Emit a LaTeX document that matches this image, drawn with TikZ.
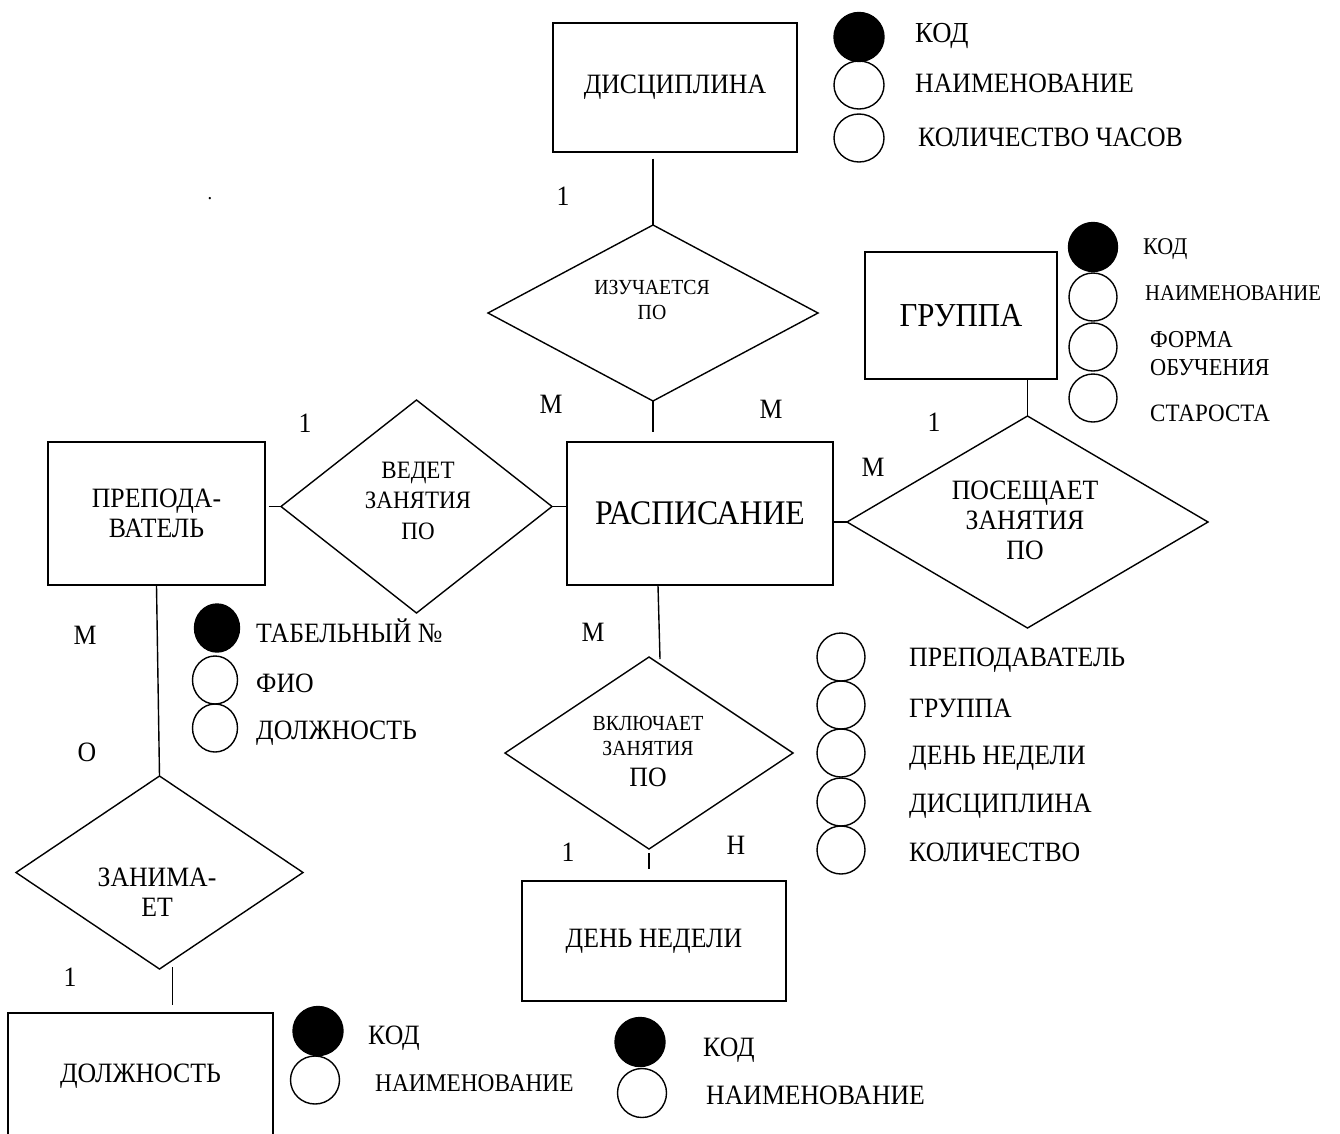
\documentclass[tikz,border=0pt]{standalone}
\usepackage{fontspec}
\setmainfont{Liberation Serif}[FakeStretch=0.92]
\usetikzlibrary{shapes.geometric,calc}
\newcommand\fs[2]{\fontsize{#1}{#2}\selectfont}
\begin{document}
\begin{tikzpicture}[x=1pt,y=-1pt,
  ent/.style={draw, line width=1.4pt, inner sep=0pt, align=center, font=\fs{28}{30}},
  rel/.style={draw, diamond, line width=1.4pt, inner sep=0pt, outer sep=0pt},
  keyatt/.style={draw, ellipse, fill=black, line width=1.4pt, inner sep=0pt, minimum width=50pt, minimum height=49pt},
  att/.style={draw, ellipse, line width=1.4pt, inner sep=0pt, minimum width=48pt, minimum height=48pt},
  lbl/.style={anchor=base west, inner sep=0pt, font=\fs{28}{30}},
  card/.style={anchor=base, inner sep=0pt, font=\fs{28}{30}},
  rtxt/.style={align=center, inner sep=0pt},
  conn/.style={line width=1.4pt}
]
\useasboundingbox (0,0) rectangle (1340,1133);

% ---------- entities ----------
\node[ent, minimum width=244pt, minimum height=129pt] (disc) at (675,87.5) {ДИСЦИПЛИНА};
\node[ent, minimum width=266pt, minimum height=143pt, font=\fs{34.5}{38}] (rasp) at (700,513.5) {РАСПИСАНИЕ};
\node[ent, minimum width=192pt, minimum height=127pt, font=\fs{33.5}{37}] (grp) at (961,315.5) {ГРУППА};
\node[ent, minimum width=217pt, minimum height=143pt] (prep) at (156.5,513.5) {ПРЕПОДА-\\ВАТЕЛЬ};
\node[ent, minimum width=264pt, minimum height=120pt] (den) at (654,941) {ДЕНЬ НЕДЕЛИ};
\node[ent, minimum width=265pt, minimum height=126pt] (dol) at (140.5,1076) {ДОЛЖНОСТЬ};

% ---------- relationships ----------
\node[rel, minimum width=330pt, minimum height=176pt] (izu) at (653,313) {};
\node[rel, minimum width=271pt, minimum height=213pt] (ved) at (416.5,506.5) {};
\node[rel, minimum width=361pt, minimum height=212pt] (pos) at (1027.5,522) {};
\node[rel, minimum width=288pt, minimum height=192pt] (vkl) at (649,753) {};
\node[rel, minimum width=287pt, minimum height=193pt] (zan) at (159.5,872.5) {};

\node[rtxt, font=\fs{21.5}{25}] (izut) at (652,299.5) {ИЗУЧАЕТСЯ\\ПО};
\node[rtxt, font=\fs{25}{30.5}] (vedt) at (418,500.5) {ВЕДЕТ\\ЗАНЯТИЯ\\ПО};
\node[rtxt, font=\fs{28}{30}] (post) at (1025,520) {ПОСЕЩАЕТ\\ЗАНЯТИЯ\\ПО};
\node[anchor=base, inner sep=0pt, font=\fs{21.5}{25}] (vklt1) at (648,730) {ВКЛЮЧАЕТ};
\node[anchor=base, inner sep=0pt, font=\fs{21.5}{25}] (vklt2) at (648,755) {ЗАНЯТИЯ};
\node[anchor=base, inner sep=0pt, font=\fs{28}{30}] (vklt3) at (648,786.5) {ПО};
\node[rtxt, font=\fs{28}{30}] (zant) at (157,892) {ЗАНИМА-\\ЕТ};

% ---------- connectors ----------
\coordinate (zs) at ($(zan.south)+(13,-2)$);
\coordinate (rs) at ($(rasp.south)+(-42,0)$);
\coordinate (vn) at ($(vkl.north)+(11,2)$);
\draw[conn, shorten <=6pt] (disc.south -| izu.north) -- (izu.north);
\draw[conn, shorten >=9pt] (izu.south) -- (izu.south |- rasp.north);
\draw[conn, shorten <=3pt] (ved.west -| prep.east) -- (ved.west);
\draw[conn, shorten >=-1pt] (ved.east) -- (ved.east -| rasp.west);
\draw[conn] (pos.west -| rasp.east) -- (pos.west);
\draw[conn] (pos.north |- grp.south) -- (pos.north);
\draw[conn] (rs) -- (vn);
\draw[conn, shorten <=4pt, shorten >=11pt] (vkl.south) -- (vkl.south |- den.north);
\draw[conn] (prep.south) -- (zan.north);
\draw[conn, shorten >=7pt] (zs) -- (zs |- dol.north);

% ---------- cardinalities ----------
\node[card] (c1) at (563,205.5) {1};
\node[card] (c2) at (551,413.2) {М};
\node[card] (c3) at (771,418.2) {М};
\node[card] (c4) at (305,432.2) {1};
\node[card] (c5) at (873,476.2) {М};
\node[card] (c6) at (934,431.2) {1};
\node[card] (c7) at (85,644.2) {М};
\node[card] (c8) at (87,761.2) {О};
\node[card] (c9) at (593,641.2) {М};
\node[card] (c10) at (568,861.2) {1};
\node[card] (c11) at (736,854.2) {Н};
\node[card] (c12) at (70,986.2) {1};
\node[card, font=\fs{20}{24}] (dot) at (210,199) {.};

% ---------- attributes: ДИСЦИПЛИНА ----------
\node[keyatt] (d1) at (859,37) {};
\node[att, minimum width=50pt] (d2) at (859,85) {};
\node[att, minimum width=50pt] (d3) at (859,138) {};
\node[lbl, font=\fs{29}{30}] (d1t) at (915,42.5) {КОД};
\node[lbl] (d2t) at (915,92.2) {НАИМЕНОВАНИЕ};
\node[lbl] (d3t) at (918,146.2) {КОЛИЧЕСТВО ЧАСОВ};

% ---------- attributes: ГРУППА ----------
\node[keyatt, minimum width=49pt] (g1) at (1093,247) {};
\node[att] (g2) at (1093,297) {};
\node[att] (g3) at (1093,347) {};
\node[att] (g4) at (1093,398) {};
\node[lbl, font=\fs{24}{26}] (g1t) at (1143,254.9) {КОД};
\node[lbl, font=\fs{22.5}{25}] (g2t) at (1145,300.4) {НАИМЕНОВАНИЕ};
\node[anchor=west, align=left, inner sep=0pt, font=\fs{24.3}{28}] (g3t) at (1150,354) {ФОРМА\\ОБУЧЕНИЯ};
\node[lbl, font=\fs{25}{27}] (g4t) at (1150,421.2) {СТАРОСТА};

% ---------- attributes: ПРЕПОДАВАТЕЛЬ ----------
\node[keyatt, minimum width=45pt, minimum height=48pt] (p1) at (217,628) {};
\node[att, minimum width=45pt] (p2) at (215,680) {};
\node[att, minimum width=45pt] (p3) at (215,728) {};
\node[lbl] (p1t) at (256,642.2) {ТАБЕЛЬНЫЙ №};
\node[lbl] (p2t) at (256,692.2) {ФИО};
\node[lbl] (p3t) at (256,739.2) {ДОЛЖНОСТЬ};

% ---------- attributes: РАСПИСАНИЕ ----------
\node[att] (r1) at (841,657) {};
\node[att] (r2) at (841,705) {};
\node[att] (r3) at (841,753) {};
\node[att] (r4) at (841,802) {};
\node[att] (r5) at (841,850) {};
\node[lbl] (r1t) at (909,666.2) {ПРЕПОДАВАТЕЛЬ};
\node[lbl] (r2t) at (909,717.2) {ГРУППА};
\node[lbl] (r3t) at (909,764.2) {ДЕНЬ НЕДЕЛИ};
\node[lbl] (r4t) at (909,812.2) {ДИСЦИПЛИНА};
\node[lbl] (r5t) at (909,861.2) {КОЛИЧЕСТВО};

% ---------- attributes: ДОЛЖНОСТЬ ----------
\node[keyatt] (o1) at (318,1031) {};
\node[att, minimum width=49pt] (o2) at (315,1080) {};
\node[lbl] (o1t) at (368,1044.2) {КОД};
\node[lbl, font=\fs{25.4}{27}] (o2t) at (375,1091.4) {НАИМЕНОВАНИЕ};

% ---------- attributes: ДЕНЬ НЕДЕЛИ ----------
\node[keyatt] (w1) at (640,1042) {};
\node[att, minimum width=49pt, minimum height=49pt] (w2) at (642,1093) {};
\node[lbl] (w1t) at (703,1056.2) {КОД};
\node[lbl] (w2t) at (706,1104.2) {НАИМЕНОВАНИЕ};
\end{tikzpicture}
\end{document}
